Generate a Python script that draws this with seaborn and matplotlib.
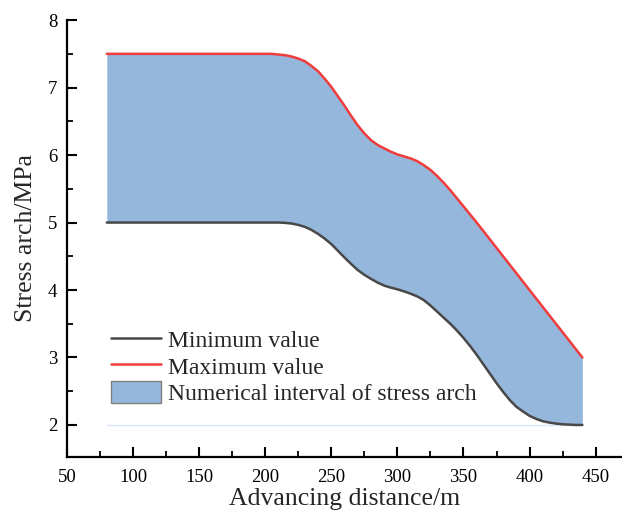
import matplotlib
matplotlib.use("Agg")
import matplotlib.pyplot as plt
import pandas as pd
import seaborn as sns
from matplotlib.patches import Patch
from matplotlib.lines import Line2D

# Advancing distance (m)
distance = [80, 100, 150, 200, 205, 210, 215, 220, 225, 230, 235, 240, 245, 250,
            255, 260, 265, 270, 275, 280, 285, 290, 295, 300, 305, 310, 315, 320,
            325, 330, 335, 340, 345, 350, 355, 360, 365, 370, 375, 380, 385, 390,
            395, 400, 405, 410, 415, 420, 425, 430, 435, 440]

# Lower bound of the stress arch (MPa)
min_value = [5.0, 5.0, 5.0, 5.0, 5.0, 5.0, 4.995, 4.985, 4.965, 4.935, 4.89, 4.83, 4.76, 4.68,
             4.58, 4.48, 4.385, 4.295, 4.225, 4.165, 4.11, 4.065, 4.035, 4.01, 3.98, 3.945, 3.905, 3.85,
             3.77, 3.68, 3.59, 3.50, 3.40, 3.29, 3.17, 3.04, 2.90, 2.76, 2.62, 2.49, 2.37, 2.27,
             2.20, 2.135, 2.09, 2.055, 2.035, 2.02, 2.01, 2.005, 2.0, 2.0]

# Upper bound of the stress arch (MPa)
max_value = [7.5, 7.5, 7.5, 7.5, 7.5, 7.49, 7.48, 7.46, 7.43, 7.39, 7.32, 7.24, 7.13, 7.01,
             6.87, 6.73, 6.58, 6.44, 6.32, 6.22, 6.15, 6.10, 6.05, 6.01, 5.98, 5.95, 5.91, 5.85,
             5.78, 5.69, 5.59, 5.48, 5.36, 5.24, 5.12, 5.00, 4.875, 4.75, 4.625, 4.50, 4.375, 4.25,
             4.125, 4.0, 3.875, 3.75, 3.625, 3.5, 3.375, 3.25, 3.125, 3.0]

baseline = 2.0

x_ticks = [50, 100, 150, 200, 250, 300, 350, 400, 450]
y_ticks = [2, 3, 4, 5, 6, 7, 8]

labels = ["Minimum value", "Maximum value", "Numerical interval of stress arch"]

df = pd.DataFrame({"distance": distance, "min": min_value, "max": max_value})

sns.set_theme(style="ticks")
plt.rcParams["font.family"] = ["Liberation Serif", "DejaVu Serif"]
plt.rcParams["xtick.direction"] = "in"
plt.rcParams["ytick.direction"] = "in"

fig = plt.figure(figsize=(6.22, 5.16), dpi=100)
ax = fig.add_axes([0.108, 0.115, 0.892, 0.846])

fill_color = "#94b7db"
red = "#f03c3c"
dark = "#484848"

ax.fill_between(df["distance"], df["min"], df["max"], color=fill_color, lw=0)
ax.plot([distance[0], distance[-1]], [baseline, baseline], color="#dbe7f4", lw=1, zorder=1)
sns.lineplot(data=df, x="distance", y="min", color=dark, lw=1.8, ax=ax, sort=False)
sns.lineplot(data=df, x="distance", y="max", color=red, lw=1.8, ax=ax, sort=False)

ax.set_xlim(50, 470)
ax.set_ylim(1.53, 8)
ax.set_xticks(x_ticks)
ax.set_yticks(y_ticks)
ax.set_xticks([75 + 50 * i for i in range(8)], minor=True)
ax.set_yticks([2.5, 3.5, 4.5, 5.5, 6.5, 7.5], minor=True)

for s in ["top", "right"]:
    ax.spines[s].set_visible(False)
for s in ["left", "bottom"]:
    ax.spines[s].set_linewidth(1.6)
    ax.spines[s].set_color("black")

ax.tick_params(which="major", direction="in", length=7, width=1.5, labelsize=13.5,
               colors="black")
ax.tick_params(axis="x", which="major", pad=9)
ax.tick_params(axis="y", which="major", pad=7)
ax.tick_params(which="minor", direction="in", length=4, width=1.3, colors="black")

ax.set_xlabel("Advancing distance/m", fontsize=18.5, labelpad=1)
ax.set_ylabel("Stress arch/MPa", fontsize=18.5, labelpad=8)

handles = [Line2D([], [], color=dark, lw=1.8),
           Line2D([], [], color=red, lw=1.8),
           Patch(facecolor=fill_color, edgecolor="#808080", lw=1)]
ax.legend(handles, labels, loc="lower left", bbox_to_anchor=(0.062, 0.097),
          frameon=False, fontsize=17, handlelength=2.1, handleheight=1.05,
          handletextpad=0.3, labelspacing=0.1, borderaxespad=0)

fig.savefig("out.png", dpi=100)
